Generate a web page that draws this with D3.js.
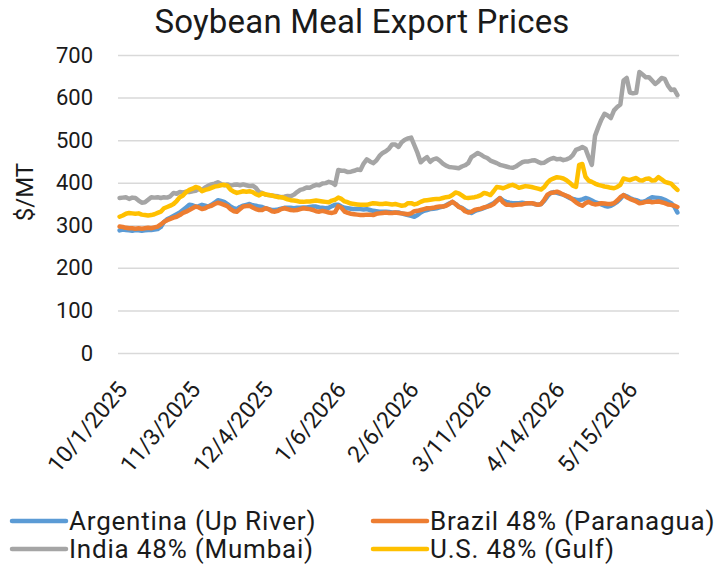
<!DOCTYPE html>
<html>
<head>
<meta charset="utf-8">
<script src="https://cdn.jsdelivr.net/npm/d3@7"></script>
<style>
  body { margin: 0; background: #fff; }
  svg text { font-family: Roboto, "Liberation Sans", sans-serif; fill: #1a1a1a; }
</style>
</head>
<body>
<svg width="727" height="569"></svg>
<script>
// Daily (weekday) export quotes, $/MT, 10/1/2025 onwards
const seriesNames = ["Argentina (Up River)", "Brazil 48% (Paranagua)", "India 48% (Mumbai)", "U.S. 48% (Gulf)"];
const seriesColors = ["#5B9BD5", "#ED7D31", "#A5A5A5", "#FFC000"];
const yTicks = [0, 100, 200, 300, 400, 500, 600, 700];
const tickLabels = ["10/1/2025", "11/3/2025", "12/4/2025", "1/6/2026", "2/6/2026", "3/11/2026", "4/14/2026", "5/15/2026"];
const skippedDays = ["2026-04-03"];   // no quote that day

const argentina = [
  288, 290, 289, 288, 287, 289, 288, 287, 288, 289,
  289, 290, 291, 296, 308, 314, 318, 322, 326, 330,
  336, 342, 348, 347, 344, 345, 348, 346, 344, 348,
  353, 359, 357, 355, 350, 344, 340, 338, 343, 346,
  348, 350, 347, 346, 344, 343, 340, 338, 336, 336,
  337, 339, 341, 341, 341, 340, 341, 341, 342, 342,
  343, 344, 344, 342, 341, 340, 341, 345, 348, 348,
  344, 341, 340, 339, 338, 338, 338, 337, 338, 336,
  334, 333, 332, 332, 332, 331, 330, 330, 330, 328,
  326, 324, 322, 320, 324, 330, 334, 336, 338, 339,
  340, 342, 344, 347, 351, 355, 350, 344, 341, 336,
  332, 329, 333, 336, 338, 341, 344, 348, 352, 358,
  364, 358, 355, 353, 352, 352, 352, 353, 352, 352,
  352, 350, 348, 350, 358, 368, 376, 378, 376, 374,
  372, 368, 364, 362, 360, 359, 361, 364, 362, 358,
  354, 352, 349, 346, 344, 346, 350, 355, 362, 371,
  368, 364, 361, 359, 356, 355, 357, 362, 366, 365,
  364, 363, 360, 356, 352, 344, 330
];
const brazil = [
  297, 296, 294, 293, 293, 292, 293, 292, 293, 294,
  293, 295, 297, 302, 308, 312, 315, 318, 320, 324,
  329, 332, 336, 340, 344, 342, 338, 340, 344, 346,
  350, 353, 351, 348, 345, 338, 333, 332, 338, 344,
  345, 346, 342, 338, 336, 336, 340, 338, 333, 332,
  334, 338, 340, 338, 336, 335, 336, 338, 340, 339,
  338, 336, 333, 332, 334, 332, 330, 329, 331, 345,
  341, 332, 329, 327, 326, 325, 324, 324, 325, 325,
  324, 327, 328, 329, 330, 329, 329, 330, 329, 328,
  327, 326, 328, 333, 334, 336, 338, 340, 340, 341,
  343, 344, 344, 346, 350, 355, 350, 343, 340, 333,
  330, 332, 336, 338, 339, 342, 344, 346, 350, 357,
  364, 354, 348, 348, 347, 348, 349, 349, 351, 352,
  352, 350, 348, 350, 360, 372, 376, 377, 379, 376,
  372, 369, 366, 360, 354, 349, 346, 352, 355, 351,
  349, 350, 352, 351, 350, 350, 352, 358, 366, 371,
  366, 362, 359, 356, 352, 353, 355, 356, 354, 355,
  356, 354, 352, 349, 348, 346, 343
];
const india = [
  364, 365, 366, 362, 365, 364, 358, 353, 354, 360,
  366, 365, 366, 364, 366, 365, 368, 376, 374, 378,
  377, 379, 378, 380, 381, 385, 383, 389, 393, 396,
  398, 401, 397, 394, 396, 393, 395, 396, 394, 396,
  394, 392, 393, 388, 378, 376, 372, 371, 370, 369,
  368, 366, 367, 369, 368, 372, 378, 383, 385, 389,
  388, 392, 395, 394, 398, 399, 402, 400, 395, 430,
  428, 428, 425, 426, 428, 431, 430, 445, 455, 450,
  446, 452, 463, 470, 474, 480, 490, 490, 484, 495,
  501, 504, 506, 488, 470, 448, 455, 460, 449, 455,
  457, 452, 445, 440, 437, 436, 435, 434, 438, 441,
  446, 460, 465, 470, 466, 461, 458, 452, 449, 446,
  442, 440, 438, 436, 435, 438, 443, 448, 450, 450,
  452, 453, 449, 446, 447, 452, 456, 458, 455, 456,
  453, 455, 458, 465, 477, 480, 484, 480, 460, 442,
  510, 530, 548, 562, 558, 552, 570, 578, 584, 640,
  646, 612, 610, 611, 660, 654, 648, 648, 640, 632,
  638, 646, 644, 628, 618, 619, 606
];
const usGulf = [
  320, 323, 327, 329, 328, 327, 328, 325, 324, 323,
  324, 326, 329, 332, 340, 343, 346, 350, 357, 366,
  370, 378, 383, 386, 390, 388, 380, 383, 385, 388,
  391, 392, 394, 395, 393, 384, 379, 376, 378, 380,
  379, 380, 378, 373, 370, 375, 373, 371, 370, 368,
  366, 366, 364, 361, 359, 358, 357, 355, 355, 356,
  356, 357, 358, 357, 356, 355, 354, 358, 360, 365,
  362, 356, 354, 351, 350, 349, 348, 348, 348, 350,
  352, 351, 350, 350, 351, 350, 349, 350, 348, 346,
  347, 352, 352, 349, 351, 355, 358, 359, 360, 361,
  362, 362, 364, 366, 367, 371, 377, 375, 370, 365,
  364, 365, 366, 368, 371, 376, 374, 371, 380, 390,
  389, 387, 390, 393, 395, 392, 388, 390, 392, 391,
  390, 388, 386, 384, 390, 400, 407, 410, 413, 412,
  410, 406, 400, 393, 390, 442, 444, 414, 405, 402,
  398, 395, 393, 391, 390, 388, 387, 390, 395, 410,
  408, 406, 409, 411, 406, 405, 409, 410, 405, 406,
  413, 408, 402, 400, 398, 390, 383
];
const seriesValues = [argentina, brazil, india, usGulf];

// category dates: weekdays from 10/1/2025, minus skipped days
const fmtKey = d3.timeFormat("%Y-%m-%d");
const dates = [];
for (let d = new Date(2025, 9, 1); dates.length < argentina.length; d = d3.timeDay.offset(d, 1)) {
    const wd = d.getDay();
    if (wd === 0 || wd === 6) continue;
    if (skippedDays.includes(fmtKey(d))) continue;
    dates.push(new Date(d));
}
const fmtLabel = d => (d.getMonth() + 1) + "/" + d.getDate() + "/" + d.getFullYear();

const svg = d3.select("svg");
const plotLeft = 118, plotRight = 679, plotTop = 55, plotBottom = 353;

const x = d3.scalePoint()
    .domain(dates.map((d, i) => i))
    .range([plotLeft, plotRight])
    .padding(0.5);
const y = d3.scaleLinear().domain([0, 700]).range([plotBottom, plotTop]);

// Title
svg.append("text")
    .attr("x", 362).attr("y", 33)
    .attr("text-anchor", "middle")
    .style("font-size", "33px")
    .style("letter-spacing", "0.2px")
    .text("Soybean Meal Export Prices");

// Y axis + gridlines
const yAxis = svg.append("g")
    .attr("transform", `translate(${plotLeft},0)`)
    .call(d3.axisLeft(y).tickValues(yTicks).tickSize(-(plotRight - plotLeft)).tickPadding(25));
yAxis.select(".domain").remove();
yAxis.selectAll("line").attr("stroke", "#D9D9D9").attr("stroke-width", 1.5);
yAxis.selectAll("text").style("font-size", "22px").attr("fill", "#1a1a1a");

svg.append("text")
    .attr("transform", "translate(33,192) rotate(-90)")
    .attr("text-anchor", "middle")
    .style("font-size", "24px")
    .text("$/MT");

// X axis labels (every 23rd category)
const tickIdx = dates.map((d, i) => i).filter(i => tickLabels.includes(fmtLabel(dates[i])));
const xAxis = svg.append("g")
    .attr("transform", `translate(0,${plotBottom + 30})`)
    .call(d3.axisBottom(x).tickValues(tickIdx).tickSize(0).tickFormat(i => fmtLabel(dates[i])));
xAxis.select(".domain").remove();
xAxis.selectAll("text")
    .style("font-size", "23px")
    .attr("fill", "#1a1a1a")
    .attr("text-anchor", "end")
    .attr("dy", "0.35em")
    .attr("transform", "rotate(-50)");

// Lines
const line = d3.line()
    .x((d, i) => x(i))
    .y(d => y(d));
seriesValues.forEach((vals, k) => {
    svg.append("path")
        .datum(vals)
        .attr("fill", "none")
        .attr("stroke", seriesColors[k])
        .attr("stroke-width", 4.5)
        .attr("stroke-linejoin", "round")
        .attr("stroke-linecap", "round")
        .attr("d", line);
});

// Legend
const legendPos = [[12, 521], [373, 521], [12, 549], [373, 549]];
seriesNames.forEach((name, k) => {
    const g = svg.append("g").attr("transform", `translate(${legendPos[k][0]},${legendPos[k][1]})`);
    g.append("line")
        .attr("x1", 0).attr("x2", 54)
        .attr("stroke", seriesColors[k])
        .attr("stroke-width", 4.5)
        .attr("stroke-linecap", "round");
    g.append("text")
        .attr("x", 57).attr("dy", "0.35em")
        .style("font-size", "26px")
        .style("letter-spacing", "0.8px")
        .text(name);
});
</script>
</body>
</html>
